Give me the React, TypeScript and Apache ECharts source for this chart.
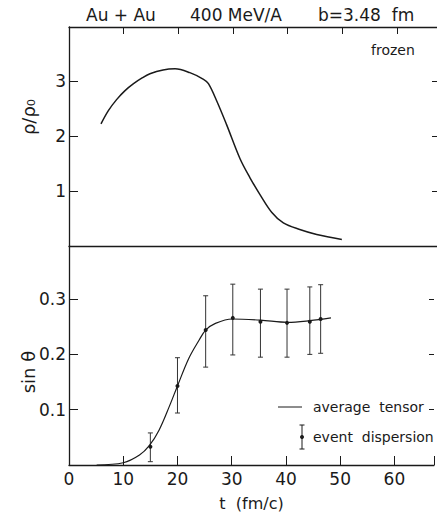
import React, { useEffect, useRef } from "react";
import * as echarts from "echarts";

// Top panel: density rho/rho0 vs time t (fm/c)
const rhoT = [5.85, 7.2, 8.7, 10.2, 11.8, 13.3, 14.8, 17.2, 19.4, 22.1, 24.6, 25.5, 27.0, 28.8, 31.3, 33.1, 34.9, 37.1, 39.2, 42.2, 45.3, 49.9];
const rhoV = [2.22, 2.46, 2.66, 2.82, 2.95, 3.05, 3.13, 3.20, 3.22, 3.15, 3.03, 2.95, 2.64, 2.21, 1.58, 1.24, 0.94, 0.61, 0.42, 0.30, 0.21, 0.12];

// Bottom panel: average tensor curve sin(theta)
const sinT = [5.1, 10.0, 13.0, 14.8, 16.6, 18.5, 20.0, 22.1, 24.0, 25.2, 27.0, 30.1, 35.3, 40.3, 44.4, 48.3];
const sinV = [0.0, 0.004, 0.018, 0.035, 0.063, 0.106, 0.143, 0.193, 0.226, 0.244, 0.256, 0.264, 0.262, 0.258, 0.261, 0.266];

// Event dispersion points with error bars
const errT = [15, 20, 25.2, 30.2, 35.3, 40.2, 44.4, 46.4];
const errMid = [0.033, 0.143, 0.244, 0.266, 0.259, 0.257, 0.259, 0.264];
const errHi = [0.058, 0.194, 0.306, 0.327, 0.318, 0.318, 0.322, 0.326];
const errLo = [0.006, 0.094, 0.177, 0.199, 0.195, 0.195, 0.2, 0.202];

const xTicks = [10, 20, 30, 40, 50, 60];
const rhoTicks = [1, 2, 3];
const sinTicks = [0.1, 0.2, 0.3];

const INK = "#1a1a1a";
const FONT = "DejaVu Sans";

export default function App() {
  const ref = useRef<HTMLDivElement>(null);
  useEffect(() => {
    if (!ref.current) return;
    const chart = echarts.init(ref.current, null, { renderer: "svg" });
    const X_MAX = 67.3;
    const lineStyle = { color: INK, width: 1.3 };
    const baseX = {
      type: "value" as const,
      min: 0,
      max: X_MAX,
      interval: 10,
      splitLine: { show: false },
    };
    const xLabelFmt = (v: number) =>
      v === 0 || xTicks.some((t) => Math.abs(t - v) < 1e-6) ? String(v) : "";
    const rhoFmt = (v: number) =>
      rhoTicks.some((t) => Math.abs(t - v) < 1e-6) ? String(v) : "";
    const sinFmt = (v: number) =>
      sinTicks.some((t) => Math.abs(t - v) < 1e-6) ? v.toFixed(1) : "";

    chart.setOption({
      animation: false,
      backgroundColor: "#ffffff",
      grid: [
        { left: 69, top: 27, width: 368, height: 219 },
        { left: 69, top: 246, width: 368, height: 219 },
      ],
      xAxis: [
        {
          ...baseX,
          gridIndex: 0,
          position: "top",
          axisLine: { show: true, onZero: false, lineStyle },
          axisTick: { show: true, inside: true, length: 7, lineStyle: { color: INK, width: 1 } },
          axisLabel: { show: false },
        },
        {
          ...baseX,
          gridIndex: 0,
          position: "bottom",
          axisLine: { show: true, onZero: false, lineStyle },
          axisTick: { show: false },
          axisLabel: { show: false },
        },
        {
          ...baseX,
          gridIndex: 1,
          position: "bottom",
          axisLine: { show: true, onZero: false, lineStyle },
          axisTick: { show: true, inside: true, length: 9, lineStyle: { color: INK, width: 1 } },
          axisLabel: {
            show: true,
            margin: 5,
            color: INK,
            fontFamily: FONT,
            fontSize: 17,
            formatter: xLabelFmt,
          },
          name: "t  (fm/c)",
          nameLocation: "middle",
          nameGap: 30,
          nameTextStyle: { color: INK, fontFamily: FONT, fontSize: 16 },
        },
      ],
      yAxis: [
        {
          type: "value",
          gridIndex: 0,
          position: "left",
          min: 0,
          max: 3.98,
          interval: 1,
          splitLine: { show: false },
          axisLine: { show: true, onZero: false, lineStyle },
          axisTick: { show: true, inside: true, length: 9, lineStyle: { color: INK, width: 1 } },
          axisLabel: { show: true, margin: 3, color: INK, fontFamily: FONT, fontSize: 17, formatter: rhoFmt },
        },
        {
          type: "value",
          gridIndex: 0,
          position: "right",
          min: 0,
          max: 3.98,
          interval: 1,
          splitLine: { show: false },
          axisLine: { show: false, onZero: false },
          axisTick: { show: true, inside: true, length: 5, lineStyle: { color: INK, width: 1 } },
          axisLabel: { show: false },
        },
        {
          type: "value",
          gridIndex: 1,
          position: "left",
          min: 0,
          max: 0.396,
          interval: 0.1,
          splitLine: { show: false },
          axisLine: { show: true, onZero: false, lineStyle },
          axisTick: { show: true, inside: true, length: 9, lineStyle: { color: INK, width: 1 } },
          axisLabel: { show: true, margin: 3, color: INK, fontFamily: FONT, fontSize: 17, formatter: sinFmt },
        },
        {
          type: "value",
          gridIndex: 1,
          position: "right",
          min: 0,
          max: 0.396,
          interval: 0.1,
          splitLine: { show: false },
          axisLine: { show: false, onZero: false },
          axisTick: { show: true, inside: true, length: 5, lineStyle: { color: INK, width: 1 } },
          axisLabel: { show: false },
        },
      ],
      series: [
        {
          type: "line",
          xAxisIndex: 0,
          yAxisIndex: 0,
          data: rhoT.map((t, i) => [t, rhoV[i]]),
          smooth: 0.35,
          showSymbol: false,
          lineStyle: { color: INK, width: 1.5 },
        },
        {
          type: "line",
          xAxisIndex: 2,
          yAxisIndex: 2,
          data: sinT.map((t, i) => [t, sinV[i]]),
          smooth: 0.35,
          showSymbol: false,
          lineStyle: { color: INK, width: 1.2 },
        },
        {
          type: "custom",
          xAxisIndex: 2,
          yAxisIndex: 2,
          data: errT.map((t, i) => [t, errMid[i], errHi[i], errLo[i]]),
          encode: { x: 0, y: [1, 2, 3] },
          renderItem: (params: any, api: any) => {
            const x = api.value(0);
            const p = api.coord([x, api.value(1)]);
            const hi = api.coord([x, api.value(2)]);
            const lo = api.coord([x, api.value(3)]);
            const st = { stroke: "#333", lineWidth: 1 };
            return {
              type: "group",
              children: [
                { type: "line", shape: { x1: hi[0], y1: hi[1], x2: lo[0], y2: lo[1] }, style: st },
                { type: "line", shape: { x1: hi[0] - 2.5, y1: hi[1], x2: hi[0] + 2.5, y2: hi[1] }, style: st },
                { type: "line", shape: { x1: lo[0] - 2.5, y1: lo[1], x2: lo[0] + 2.5, y2: lo[1] }, style: st },
                { type: "circle", shape: { cx: p[0], cy: p[1], r: 2 }, style: { fill: INK } },
              ],
            };
          },
        },
      ],
      graphic: [
        { type: "text", left: 86, top: 6, style: { text: "Au + Au", fill: INK, font: `17px "${FONT}"` } },
        { type: "text", left: 190, top: 6, style: { text: "400 MeV/A", fill: INK, font: `17px "${FONT}"` } },
        { type: "text", left: 318, top: 6, style: { text: "b=3.48  fm", fill: INK, font: `17px "${FONT}"` } },
        { type: "text", left: 371, top: 43, style: { text: "frozen", fill: INK, font: `14px "${FONT}"` } },
        {
          type: "text",
          x: 28,
          y: 117,
          rotation: Math.PI / 2,
          style: { text: "ρ/ρ₀", fill: INK, font: `18px "${FONT}"`, align: "center", verticalAlign: "middle" },
        },
        {
          type: "text",
          x: 28,
          y: 372,
          rotation: Math.PI / 2,
          style: { text: "sin θ", fill: INK, font: `18px "${FONT}"`, align: "center", verticalAlign: "middle" },
        },
        { type: "line", shape: { x1: 278, y1: 407, x2: 302, y2: 407 }, style: { stroke: INK, lineWidth: 1 } },
        {
          type: "text",
          x: 313,
          y: 407,
          style: { text: "average  tensor", fill: INK, font: `14px "${FONT}"`, verticalAlign: "middle" },
        },
        { type: "line", shape: { x1: 302, y1: 425, x2: 302, y2: 449 }, style: { stroke: INK, lineWidth: 1 } },
        { type: "line", shape: { x1: 299.5, y1: 425, x2: 304.5, y2: 425 }, style: { stroke: INK, lineWidth: 1 } },
        { type: "line", shape: { x1: 299.5, y1: 449, x2: 304.5, y2: 449 }, style: { stroke: INK, lineWidth: 1 } },
        { type: "circle", shape: { cx: 302, cy: 437, r: 2 }, style: { fill: INK } },
        {
          type: "text",
          x: 313,
          y: 437,
          style: { text: "event  dispersion", fill: INK, font: `14px "${FONT}"`, verticalAlign: "middle" },
        },
      ],
    });
    return () => chart.dispose();
  }, []);
  return (
    <div
      ref={ref}
      style={{ position: "absolute", left: 0, top: 0, width: 437, height: 519, background: "#fff" }}
    />
  );
}
